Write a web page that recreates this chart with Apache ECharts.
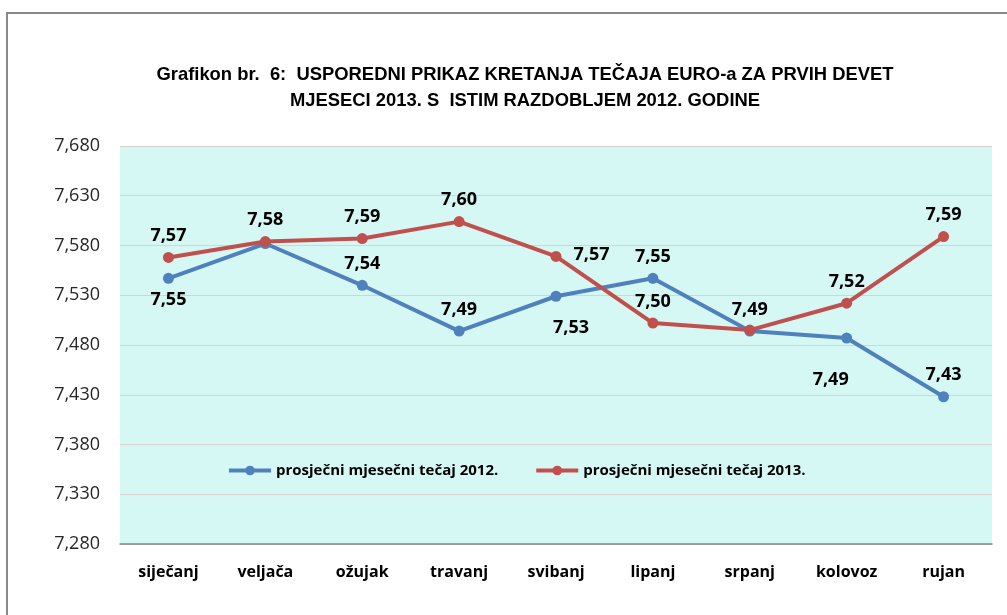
<!DOCTYPE html>
<html>
<head>
<meta charset="utf-8">
<script src="https://cdn.jsdelivr.net/npm/echarts@6/dist/echarts.min.js"></script>
<style>
  html, body { margin: 0; padding: 0; background: #fff; }
  #chart { width: 1007px; height: 615px; }
</style>
</head>
<body>
<div id="chart"></div>
<script>
const months = ['siječanj', 'veljača', 'ožujak', 'travanj', 'svibanj', 'lipanj', 'srpanj', 'kolovoz', 'rujan'];
const rate2012 = [7.547, 7.582, 7.540, 7.494, 7.529, 7.547, 7.494, 7.487, 7.428];
const rate2013 = [7.568, 7.584, 7.587, 7.604, 7.569, 7.502, 7.495, 7.522, 7.589];
// where each data label sits (null = no label)
const pos2012 = ['bottom', null, 'top', 'top', 'bottom', 'top', 'top', 'bottom', 'top'];
const pos2013 = ['top', 'top', 'top', 'top', 'right', 'top', null, 'top', 'top'];
const yTicks = { min: 7.28, max: 7.68, interval: 0.05 };

const fmt2 = v => v.toFixed(2).replace('.', ',');

function points(values, positions) {
  return values.map((v, i) => {
    const p = positions[i];
    if (!p) return { value: v, label: { show: false } };
    const lbl = { position: p };
    if (p === 'right') { lbl.distance = 12; lbl.offset = [0, -2]; }
    if (p === 'bottom' && i === 4) lbl.offset = [15, 10];
    if (p === 'bottom' && i === 7) lbl.offset = [-16, 20];
    return { value: v, label: lbl };
  });
}

const chart = echarts.init(document.getElementById('chart'));
const labelStyle = {
  show: true,
  fontFamily: 'Open Sans',
  fontWeight: 'bold',
  fontSize: 18,
  color: '#000',
  distance: 7,
  formatter: p => fmt2(p.value)
};

chart.setOption({
  animation: false,
  title: {
    text: 'Grafikon br.  6:  USPOREDNI PRIKAZ KRETANJA TEČAJA EURO-a ZA PRVIH DEVET\nMJESECI 2013. S  ISTIM RAZDOBLJEM 2012. GODINE',
    left: 520,
    top: 57,
    textAlign: 'center',
    textStyle: {
      fontFamily: 'Liberation Sans',
      fontWeight: 'bold',
      fontSize: 18.4,
      lineHeight: 26,
      color: '#000'
    }
  },
  graphic: [{
    type: 'rect',
    shape: { x: 7, y: 13, width: 1100, height: 700 },
    style: { fill: 'none', stroke: '#8a8a8a', lineWidth: 2 }
  }],
  legend: {
    left: 222,
    top: 458,
    itemWidth: 42,
    itemHeight: 12,
    itemGap: 36,
    lineStyle: { width: 4 },
    textStyle: { fontFamily: 'Open Sans', fontWeight: 'bold', fontSize: 15, color: '#000' },
    data: ['prosječni mjesečni tečaj 2012.', 'prosječni mjesečni tečaj 2013.']
  },
  grid: {
    left: 120, right: 15, top: 146, bottom: 71,
    show: true,
    backgroundColor: '#d6f8f4',
    borderWidth: 0
  },
  xAxis: {
    type: 'category',
    data: months,
    boundaryGap: true,
    axisLine: { lineStyle: { color: '#868686', width: 1.5 } },
    axisTick: { show: false },
    axisLabel: { margin: 20, fontFamily: 'Open Sans', fontWeight: 'bold', fontSize: 16, color: '#000' }
  },
  yAxis: {
    type: 'value',
    min: yTicks.min,
    max: yTicks.max,
    interval: yTicks.interval,
    axisLine: { show: false },
    axisTick: { show: false },
    splitLine: { lineStyle: { color: '#dcd0d0', width: 1 } },
    axisLabel: {
      margin: 20,
      fontFamily: 'Open Sans',
      fontSize: 18,
      color: '#262626',
      formatter: v => v.toFixed(3).replace('.', ',')
    }
  },
  series: [
    {
      name: 'prosječni mjesečni tečaj 2012.',
      type: 'line',
      data: points(rate2012, pos2012),
      symbol: 'circle',
      symbolSize: 11,
      lineStyle: { width: 4, color: '#4f81bd' },
      itemStyle: { color: '#4f81bd' },
      label: labelStyle,
      z: 2
    },
    {
      name: 'prosječni mjesečni tečaj 2013.',
      type: 'line',
      data: points(rate2013, pos2013),
      symbol: 'circle',
      symbolSize: 11,
      lineStyle: { width: 4, color: '#c0504d' },
      itemStyle: { color: '#c0504d' },
      label: labelStyle,
      z: 3
    }
  ]
});
</script>
</body>
</html>
